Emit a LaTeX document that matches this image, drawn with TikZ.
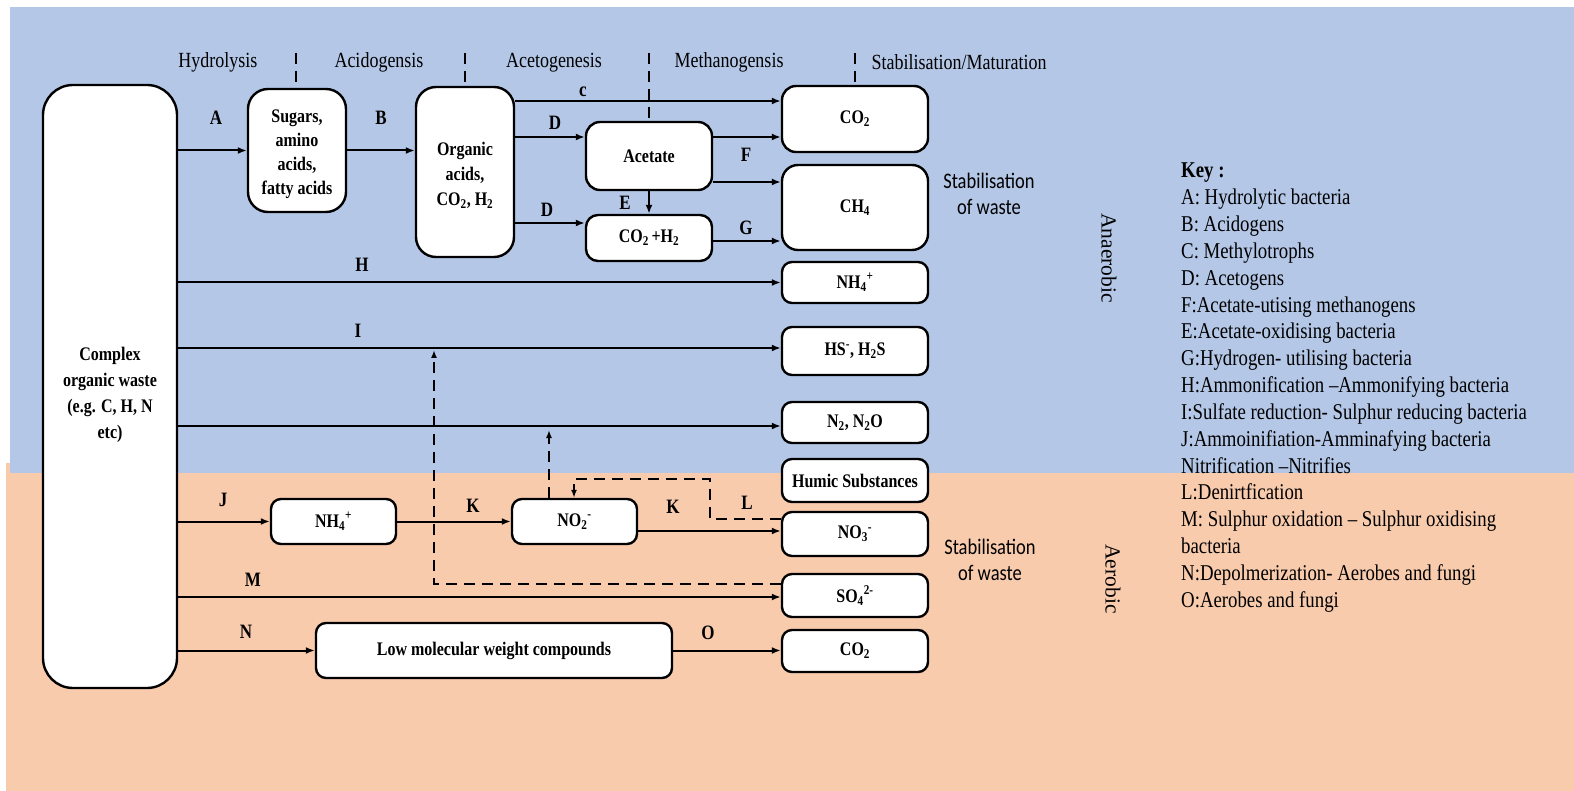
\documentclass[tikz,border=0pt]{standalone}
\usepackage{fontspec}
\setmainfont{Liberation Serif}
\newfontfamily\labelsans{Carlito}
\usepackage{graphicx}
\usetikzlibrary{arrows.meta}
\definecolor{anaerobg}{HTML}{B4C7E7}
\definecolor{aerobg}{HTML}{F8CBAD}
% text in this figure is set slightly taller than wide
\newcommand\tall[1]{\scalebox{1}[1.2]{#1}}
\newcommand\stack[1]{\tall{\begin{tabular}{@{}c@{}}#1\end{tabular}}}
% pad a box on top so that centred text sits a little lower
\newcommand\dropby[2]{\raisebox{0pt}[\dimexpr\height+#1\relax][\depth]{#2}}
\begin{document}
\begin{tikzpicture}[x=1pt,y=-1pt,
  box/.style={draw=black, line width=2.4pt, fill=white, rounded corners=10pt,
    inner sep=0pt, font=\bfseries\fontsize{16}{20}\selectfont},
  arr/.style={line width=2pt, -{Latex[length=9pt,width=7pt]}},
  dashy/.style={line width=2pt, dash pattern=on 11pt off 7pt},
  dtip/.style={-{Latex[length=8pt,width=6pt]}},
  lbl/.style={inner sep=0pt, font=\bfseries\fontsize{17}{20}\selectfont},
  phase/.style={inner sep=0pt, font=\fontsize{18}{21}\selectfont},
  zone/.style={inner sep=0pt, font=\fontsize{21.5}{25}\selectfont, rotate=-90},
  stab/.style={inner sep=0pt, font=\labelsans\fontsize{18.5}{21.5}\selectfont}
]
\useasboundingbox (0,0) rectangle (1574,791);
% background bands
\fill[aerobg] (6,463) rectangle (1574,791);
\fill[anaerobg] (10,7) rectangle (1574,473);

% phase headings
\node[phase] (ph1) at (218,62) {\tall{Hydrolysis}};
\node[phase] (ph2) at (379,62) {\tall{Acidogensis}};
\node[phase] (ph3) at (554,63) {\tall{Acetogenesis}};
\node[phase] (ph4) at (729,62) {\tall{Methanogensis}};
\node[phase] (ph5) at (959,62) {\tall{Stabilisation/Maturation}};

% substrate boxes
\node[box, rounded corners=30pt, minimum width=134pt, minimum height=603pt] (big) at (110,386.5)
  {\fontsize{16}{21.7}\selectfont\dropby{16pt}{\stack{Complex\\organic waste\\(e.g. C, H, N\\etc)}}};
\node[box, rounded corners=20pt, minimum width=98pt, minimum height=123pt] (sug) at (297,150.5)
  {\dropby{7pt}{\stack{Sugars,\\amino\\acids,\\fatty acids}}};
\node[box, rounded corners=20pt, minimum width=98pt, minimum height=170pt] (org) at (465,172)
  {\fontsize{16}{20.5}\selectfont\dropby{7pt}{\stack{Organic\\acids,\\CO\textsubscript{2}, H\textsubscript{2}}}};
\node[box, rounded corners=14pt, minimum width=126pt, minimum height=68pt] (ace) at (649,156) {\tall{Acetate}};
\node[box, rounded corners=12pt, minimum width=126pt, minimum height=46pt] (ch) at (649,238)
  {\tall{CO\textsubscript{2}\,+H\textsubscript{2}}};

% product column
\node[box, rounded corners=14pt, minimum width=146pt, minimum height=66pt] (co2a) at (855,119) {\tall{CO\textsubscript{2}}};
\node[box, rounded corners=16pt, minimum width=146pt, minimum height=85pt] (ch4) at (855,207.5) {\tall{CH\textsubscript{4}}};
\node[box, minimum width=146pt, minimum height=41pt] (nh4a) at (855,282.5) {\tall{NH\textsubscript{4}\textsuperscript{+}}};
\node[box, minimum width=146pt, minimum height=48pt] (hs) at (855,351) {\tall{HS\textsuperscript{-}, H\textsubscript{2}S}};
\node[box, minimum width=146pt, minimum height=41pt] (n2) at (855,422.5) {\tall{N\textsubscript{2}, N\textsubscript{2}O}};
\node[box, minimum width=146pt, minimum height=43pt] (hum) at (855,480.5) {\tall{Humic Substances}};
\node[box, minimum width=146pt, minimum height=44pt] (no3) at (855,534) {\tall{NO\textsubscript{3}\textsuperscript{-}}};
\node[box, minimum width=146pt, minimum height=43pt] (so4) at (855,595.5) {\tall{SO\textsubscript{4}\textsuperscript{2-}}};
\node[box, minimum width=146pt, minimum height=42pt] (co2b) at (855,651) {\tall{CO\textsubscript{2}}};

% aerobic intermediates
\node[box, minimum width=125pt, minimum height=45pt] (nh4b) at (333.5,521.5) {\tall{NH\textsubscript{4}\textsuperscript{+}}};
\node[box, minimum width=125pt, minimum height=45pt] (no2) at (574.5,521.5) {\tall{NO\textsubscript{2}\textsuperscript{-}}};
\node[box, minimum width=356pt, minimum height=55pt] (low) at (494,650.5) {\tall{Low molecular weight compounds}};

% phase dividers
\coordinate (d1) at (296,53);
\coordinate (d2) at (465,53);
\coordinate (d3) at (649,53);
\coordinate (d4) at (855,53);
\draw[dashy] (d1) -- (d1 |- sug.north);
\draw[dashy] (d2) -- (d2 |- org.north);
\draw[dashy] (d3) -- (d3 |- ace.north);
\draw[dashy] (d4) -- (d4 |- co2a.north);

% levels of the horizontal connectors
\coordinate (yc) at (0,101);
\coordinate (yd1) at (0,137);
\coordinate (yf) at (0,182);
\coordinate (yd2) at (0,223);
\coordinate (yg) at (0,241);
\coordinate (yi) at (0,348);
\coordinate (yn2) at (0,426);
\coordinate (yk2) at (0,531);
\coordinate (ym) at (0,597);

% anaerobic pathway
\draw[arr] (big.east |- sug.west) -- (sug.west);
\draw[arr] (sug.east) -- (org.west |- sug.east);
\draw[arr] (org.east |- yc) -- (co2a.west |- yc);
\draw[arr] (org.east |- yd1) -- (ace.west |- yd1);
\draw[arr] (ace.east |- yd1) -- (co2a.west |- yd1);
\draw[arr] (ace.east |- yf) -- (ch4.west |- yf);
\draw[arr] (ace.south) -- (ch.north);
\draw[arr] (org.east |- yd2) -- (ch.west |- yd2);
\draw[arr] (ch.east |- yg) -- (ch4.west |- yg);
\draw[arr] (big.east |- nh4a.west) -- (nh4a.west);
\draw[arr] (big.east |- yi) -- (hs.west |- yi);
\draw[arr] (big.east |- yn2) -- (n2.west |- yn2);

% aerobic pathway
\draw[arr] (big.east |- nh4b.west) -- (nh4b.west);
\draw[arr] (nh4b.east) -- (no2.west);
\draw[arr] (no2.east |- yk2) -- (no3.west |- yk2);
\draw[arr] (big.east |- ym) -- (so4.west |- ym);
\draw[arr] (big.east |- low.west) -- (low.west);
\draw[arr] (low.east) -- (co2b.west |- low.east);

% feedback loops
\coordinate (sx) at (434,584);
\coordinate (stip) at (434,350);
\draw[dashy, dtip] (so4.west |- sx) -- (sx) -- (stip);
\coordinate (ntip) at (549,430);
\draw[dashy, dtip] (ntip |- no2.north) -- (ntip);
\coordinate (l1) at (710,519);
\coordinate (l2) at (574,479);
\draw[dashy, dtip] (no3.west |- l1) -- (l1) -- (l1 |- l2) -- (l2) -- (l2 |- no2.north);

% connector letters
\node[lbl] (la) at (216,118) {\tall{A}};
\node[lbl] (lb) at (381,118) {\tall{B}};
\node[lbl] (lc) at (583,92) {\tall{c}};
\node[lbl] (ld1) at (555,123) {\tall{D}};
\node[lbl] (ld2) at (547,210) {\tall{D}};
\node[lbl] (le) at (625,203) {\tall{E}};
\node[lbl] (lf) at (746,155) {\tall{F}};
\node[lbl] (lg) at (746,228) {\tall{G}};
\node[lbl] (lh) at (362,265) {\tall{H}};
\node[lbl] (li) at (358,331) {\tall{I}};
\node[lbl] (lj) at (223,500) {\tall{J}};
\node[lbl] (lk1) at (473,506) {\tall{K}};
\node[lbl] (lk2) at (673,507) {\tall{K}};
\node[lbl] (ll) at (747,503) {\tall{L}};
\node[lbl] (lm) at (253,580) {\tall{M}};
\node[lbl] (ln) at (246,632) {\tall{N}};
\node[lbl] (lo) at (708,633) {\tall{O}};

% side notes
\node[stab] (st1) at (989,196) {\tall{\begin{tabular}{@{}c@{}}Stabilisation\\of waste\end{tabular}}};
\node[stab] (st2) at (990,562) {\tall{\begin{tabular}{@{}c@{}}Stabilisation\\of waste\end{tabular}}};
\node[zone] (anaer) at (1109,258) {Anaerobic};
\node[zone] (aer) at (1113,579) {Aerobic};

% key
\node[anchor=base west, inner sep=0pt, font=\fontsize{18.8}{22.35}\selectfont] (key) at (1181,178)
  {\tall{\begin{tabular}[t]{@{}l@{}}
  \textbf{Key :}\\
  A: Hydrolytic bacteria\\
  B: Acidogens\\
  C: Methylotrophs\\
  D: Acetogens\\
  F:Acetate-utising methanogens\\
  E:Acetate-oxidising bacteria\\
  G:Hydrogen- utilising bacteria\\
  H:Ammonification --Ammonifying bacteria\\
  I:Sulfate reduction- Sulphur reducing bacteria\\
  J:Ammoinifiation-Amminafying bacteria\\
  Nitrification --Nitrifies\\
  L:Denirtfication\\
  M: Sulphur oxidation -- Sulphur oxidising\\
  bacteria\\
  N:Depolmerization- Aerobes and fungi\\
  O:Aerobes and fungi
  \end{tabular}}};
\end{tikzpicture}
\end{document}
